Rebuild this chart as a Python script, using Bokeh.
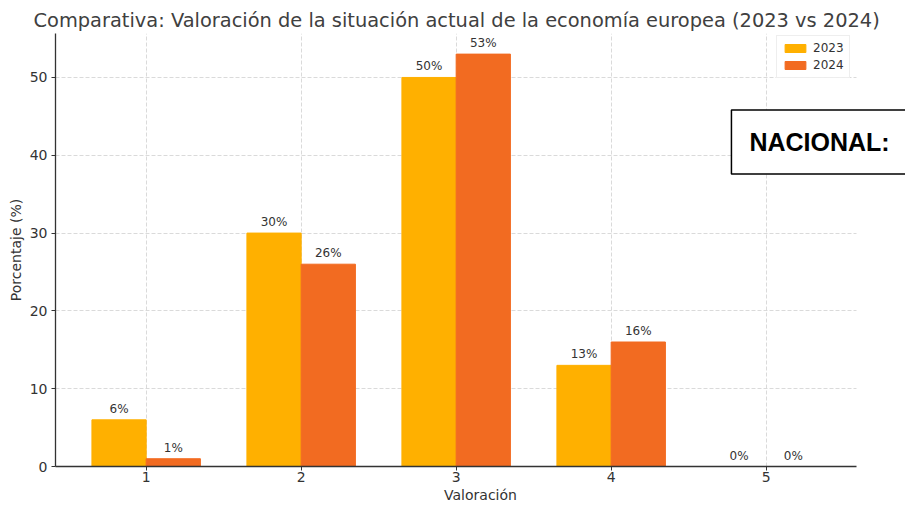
from bokeh.plotting import figure
from bokeh.models import Range1d, FixedTicker, ColumnDataSource, Label
from bokeh.transform import dodge
from bokeh.core.properties import value
from bokeh.embed import file_html
from bokeh.resources import INLINE

categories = [1, 2, 3, 4, 5]
values_2023 = [6, 30, 50, 13, 0]
values_2024 = [1, 26, 53, 16, 0]
labels_2023 = [f"{v}%" for v in values_2023]
labels_2024 = [f"{v}%" for v in values_2024]
y_ticks = [0, 10, 20, 30, 40, 50]

FONT = "DejaVu Sans"
TXT = "#333333"
C2023 = "#FFB000"
C2024 = "#F26B21"
GRID = "#d0d0d0"

# axes extent (matplotlib-like margins) and an extra strip to the right of it
AX_X0, AX_X1 = 0.415, 5.585
X_END = 5.899

src = ColumnDataSource(dict(x=categories, v23=values_2023, v24=values_2024,
                            l23=labels_2023, l24=labels_2024))

p = figure(width=905, height=505, output_backend="svg", toolbar_location=None,
           x_range=Range1d(AX_X0, X_END), y_range=Range1d(0, 55.65),
           title="Comparativa: Valoración de la situación actual de la economía europea (2023 vs 2024)")
p.min_border_left = 55
p.min_border_right = 0
p.min_border_top = 33
p.min_border_bottom = 39
p.outline_line_color = None
p.background_fill_color = "white"

p.title.text_font = FONT
p.title.text_font_size = "19.4px"
p.title.text_font_style = "normal"
p.title.text_color = "#404040"
p.title.align = "left"
p.title.offset = -22
p.title.standoff = 4

# grid
p.xgrid.grid_line_color = GRID
p.xgrid.grid_line_dash = "4 2"
p.xgrid.grid_line_width = 0.8
yg = p.ygrid[0]
if "cross_bounds" in yg.properties():
    yg.grid_line_color = GRID
    yg.grid_line_dash = "4 2"
    yg.grid_line_width = 0.8
    yg.cross_bounds = (AX_X0, AX_X1)
else:
    yg.grid_line_color = None
    p.segment(x0=[AX_X0] * len(y_ticks), x1=[AX_X1] * len(y_ticks),
              y0=y_ticks, y1=y_ticks, line_color=GRID,
              line_dash="4 2", line_width=0.8, level="underlay")

w = 0.35
p.vbar(x=dodge("x", -w / 2, range=p.x_range), top="v23", width=w, source=src,
       color=C2023, legend_label="2023")
p.vbar(x=dodge("x", w / 2, range=p.x_range), top="v24", width=w, source=src,
       color=C2024, legend_label="2024")

for field, lab, off in (("v23", "l23", -w / 2), ("v24", "l24", w / 2)):
    p.text(x=dodge("x", off, range=p.x_range), y=field, text=lab, source=src,
           text_align="center", text_baseline="bottom", y_offset=-4,
           text_font_size="12px", text_color=TXT, text_font=value(FONT))

for ax in (p.xaxis[0], p.yaxis[0]):
    ax.axis_line_color = "#333333"
    ax.axis_line_width = 1.3
    ax.major_tick_line_color = "#333333"
    ax.major_tick_out = 4
    ax.major_tick_in = 0
    ax.minor_tick_line_color = None
    ax.major_label_text_font = FONT
    ax.major_label_text_font_size = "14px"
    ax.major_label_text_color = TXT
    ax.axis_label_text_font = FONT
    ax.axis_label_text_font_size = "14px"
    ax.axis_label_text_font_style = "normal"
    ax.axis_label_text_color = TXT

p.xaxis.bounds = (AX_X0, AX_X1)
p.xaxis.major_label_standoff = 1
p.xaxis.axis_label_standoff = 2
p.yaxis.major_label_standoff = 4
p.yaxis.axis_label_standoff = 3

p.xaxis.ticker = FixedTicker(ticks=categories)
p.yaxis.ticker = FixedTicker(ticks=y_ticks)
p.xaxis.axis_label = "Valoración"
p.yaxis.axis_label = "Porcentaje (%)"

p.legend.location = (721, 388)
p.legend.margin = 0
p.legend.padding = 5
p.legend.spacing = 3
p.legend.glyph_width = 26
p.legend.glyph_height = 10
p.legend.label_text_font = FONT
p.legend.label_text_font_size = "12px"
p.legend.label_text_color = TXT
p.legend.border_line_color = "#dddddd"
p.legend.border_line_width = 1
p.legend.label_height = 14

nac = Label(x=4.776, y=41.7, text="NACIONAL:", text_font="Liberation Sans",
            text_font_style="bold", text_font_size="25px", text_color="black",
            text_align="left", text_baseline="middle",
            background_fill_color="white", border_line_color="black",
            border_line_width=1.5, padding=18, level="overlay")
p.add_layout(nac)

open("out.html", "w").write(file_html(p, INLINE))
